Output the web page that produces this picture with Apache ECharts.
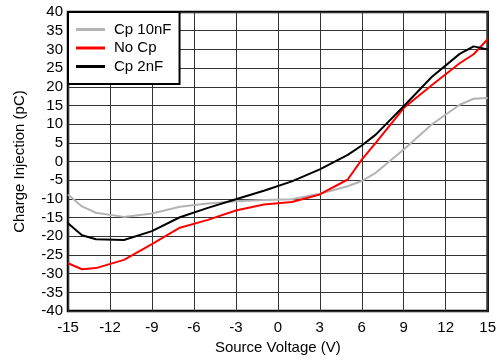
<!DOCTYPE html>
<html>
<head>
<meta charset="utf-8">
<script src="https://cdn.jsdelivr.net/npm/echarts@6/dist/echarts.min.js"></script>
<style>
  html, body { margin: 0; padding: 0; background: #fff; }
  #chart { width: 499px; height: 360px; }
</style>
</head>
<body>
<div id="chart"></div>
<script>
// source voltage (V)
const voltage = [-15, -14, -13, -11, -9, -7, -5, -3, -1, 1, 3, 5, 6, 7, 9, 11, 13, 14, 15];
// charge injection (pC)
const cp10nF = [-8.8, -12, -13.7, -14.8, -13.9, -12.1, -11.2, -10.6, -10.3, -10.1, -8.6, -6.6, -5.2, -3, 3.2, 9.9, 15.2, 16.8, 17];
const noCp = [-27.2, -28.8, -28.5, -26.3, -22.1, -17.7, -15.6, -13.1, -11.5, -10.8, -8.8, -4.8, 0.5, 5, 14.3, 20.4, 26.3, 28.7, 32.7];
const cp2nF = [-16.5, -19.7, -20.8, -21, -18.6, -14.9, -12.4, -10.1, -7.8, -5.3, -2.1, 1.8, 4.3, 7.2, 14.8, 22.6, 28.8, 30.8, 30.0];

const font = "Liberation Sans, Arial, sans-serif";
const pairs = ys => voltage.map((v, i) => [v, ys[i]]);

let myChart = echarts.init(document.getElementById("chart"));
let option = {
  animation: false,
  textStyle: { fontFamily: font },
  grid: {
    show: true,
    left: 68,
    right: 7,
    top: 12,
    bottom: 48,
    borderColor: "#000",
    borderWidth: 2.5,
    backgroundColor: "#fff"
  },
  legend: {
    orient: "vertical",
    left: 68,
    top: 12,
    padding: [10, 8, 10, 8],
    itemWidth: 29,
    itemHeight: 3,
    itemGap: 3.5,
    icon: "rect",
    backgroundColor: "#fff",
    borderColor: "#000",
    borderWidth: 2,
    textStyle: { fontSize: 15, color: "#000", fontFamily: font, padding: [0, 0, 0, 4] },
    data: ["Cp 10nF", "No Cp", "Cp 2nF"]
  },
  xAxis: {
    type: "value",
    min: -15,
    max: 15,
    interval: 3,
    name: "Source Voltage (V)",
    nameLocation: "middle",
    nameGap: 27,
    nameTextStyle: { fontSize: 15, color: "#000", fontFamily: font },
    axisLine: { show: false },
    axisTick: { show: false },
    axisLabel: { fontSize: 15, color: "#000", margin: 9, fontFamily: font },
    splitLine: { show: true, lineStyle: { color: "#333", width: 1 } }
  },
  yAxis: {
    type: "value",
    min: -40,
    max: 40,
    interval: 5,
    name: "Charge Injection (pC)",
    nameLocation: "middle",
    nameGap: 41,
    nameTextStyle: { fontSize: 15, color: "#000", fontFamily: font },
    axisLine: { show: false },
    axisTick: { show: false },
    axisLabel: { fontSize: 15, color: "#000", margin: 5, fontFamily: font },
    splitLine: { show: true, lineStyle: { color: "#333", width: 1 } }
  },
  series: [
    {
      name: "Cp 10nF",
      type: "line",
      symbol: "none",
      color: "#b3b3b3",
      lineStyle: { color: "#b3b3b3", width: 2 },
      data: pairs(cp10nF)
    },
    {
      name: "No Cp",
      type: "line",
      symbol: "none",
      color: "#ff0000",
      lineStyle: { color: "#ff0000", width: 2 },
      data: pairs(noCp)
    },
    {
      name: "Cp 2nF",
      type: "line",
      symbol: "none",
      color: "#000",
      lineStyle: { color: "#000", width: 2 },
      data: pairs(cp2nF)
    }
  ]
};
myChart.setOption(option);
</script>
</body>
</html>
